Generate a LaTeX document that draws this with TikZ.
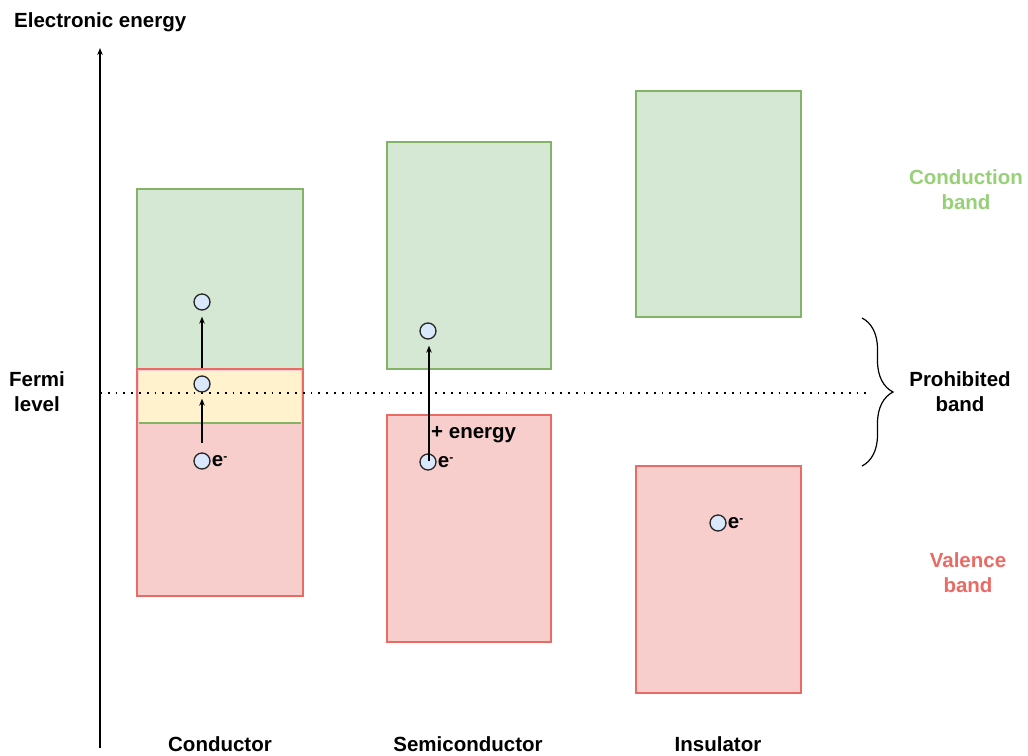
\documentclass[tikz,border=0pt]{standalone}
\usepackage{fontspec}
\setmainfont{Liberation Sans}
\usetikzlibrary{arrows.meta,decorations.pathreplacing}
\definecolor{condfill}{HTML}{D5E8D4}
\definecolor{conddraw}{HTML}{82B366}
\definecolor{valfill}{HTML}{F8CECC}
\definecolor{valdraw}{HTML}{EA6B66}
\definecolor{gapfill}{HTML}{FFF2CC}
\definecolor{elecfill}{HTML}{DAE8FC}
\definecolor{condtext}{HTML}{97D077}
\tikzset{>={Stealth[length=7pt,width=5.5pt]}}
\tikzset{
  lbl/.style={font=\fontsize{20.5}{25}\selectfont\bfseries, inner sep=0pt, align=center},
  cband/.style={draw=conddraw, fill=condfill, line width=2.8pt, inner sep=0pt},
  vband/.style={draw=valdraw, fill=valfill, line width=2.8pt, inner sep=0pt},
  electron/.style={circle, draw=black!85, fill=elecfill, line width=1.3pt, minimum size=16pt, inner sep=0pt},
  eminus/.style={label={[lbl, anchor=west, xshift=1pt]east:e\raisebox{0.55ex}{\fontsize{12}{12}\selectfont -}}}
}

\begin{document}
\begin{tikzpicture}[x=1pt,y=-1pt]
  \useasboundingbox (0,0) rectangle (1028,755);

  % energy axis
  \coordinate (axisbot) at (100,748);
  \coordinate (axistop) at (100,48);
  \draw[->, line width=1.3pt] (axisbot) -- (axistop);
  \node[lbl, anchor=base west] (title) at (14,27) {Electronic energy};

  % conductor
  \node[cband, minimum width=166pt, minimum height=180pt] (cgreen) at (220,279) {};
  \node[vband, minimum width=166pt, minimum height=227pt] (cred) at (220,482.5) {};
  \fill[gapfill] (139.4,371.4) rectangle (300.6,421.5);
  \draw[conddraw, line width=2.8pt] (139.4,423) -- (300.6,423);

  % semiconductor
  \node[cband, minimum width=164pt, minimum height=227pt] (sgreen) at (469,255.5) {};
  \node[vband, minimum width=164pt, minimum height=227pt] (sred) at (469,528.5) {};

  % insulator
  \node[cband, minimum width=165pt, minimum height=226pt] (igreen) at (718.5,204) {};
  \node[vband, minimum width=165pt, minimum height=227pt] (ired) at (718.5,579.5) {};

  % fermi level
  \coordinate (fermiL) at (100,393);
  \coordinate (fermiR) at (866,393);
  \draw[line width=1.8pt, dash pattern=on 1.8pt off 6pt] (fermiL) -- (fermiR);
  \node[lbl] (fermi) at (37,392) {Fermi\\level};

  % electrons
  \node[electron] (c1) at (202,302) {};
  \node[electron] (c2) at (202,384) {};
  \node[electron, eminus] (c3) at (202,461) {};
  \node[electron] (s1) at (428,331) {};
  \node[electron, eminus] (s2) at (428,462) {};
  \node[electron, eminus] (i1) at (718,523) {};

  \draw[->, line width=1.3pt] (c3) ++(0,-18) -- ([yshift=-6pt]c2.south);
  \draw[->, line width=1.3pt] (c2) ++(0,-16) -- ([yshift=-6pt]c1.south);
  \draw[->, line width=1.3pt] ([xshift=1pt,yshift=-8pt]s2.north) -- ([xshift=1pt,yshift=-6pt]s1.south);
  \node[lbl, anchor=west] (energy) at (431,435) {+ energy};

  % prohibited band
  \coordinate (bracetop) at (862,318);
  \coordinate (bracebot) at (862,466);
  \draw[line width=1.2pt, decorate, decoration={brace, amplitude=31pt}] (bracetop) -- (bracebot);
  \node[lbl] (prohib) at (960,392) {Prohibited\\band};
  \node[lbl, text=condtext] (condlbl) at (966,190) {Conduction\\band};
  \node[lbl, text=valdraw] (vallbl) at (968,573) {Valence\\band};

  % materials
  \node[lbl, anchor=base] (conductor) at (220,751) {Conductor};
  \node[lbl, anchor=base] (semi) at (468,751) {Semiconductor};
  \node[lbl, anchor=base] (insul) at (718,751) {Insulator};
\end{tikzpicture}
\end{document}
